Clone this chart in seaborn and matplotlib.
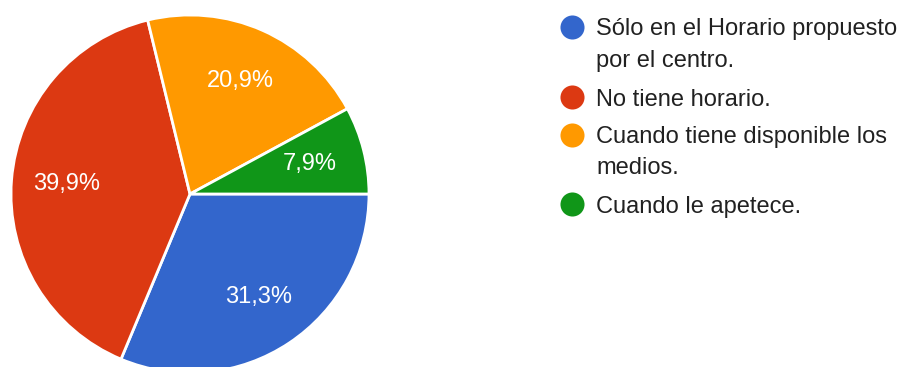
import matplotlib
matplotlib.use("Agg")
import matplotlib.pyplot as plt
import seaborn as sns

# Response shares (percent) and their categories
categories = [
    ["Sólo en el Horario propuesto", "por el centro."],
    ["No tiene horario."],
    ["Cuando tiene disponible los", "medios."],
    ["Cuando le apetece."],
]
shares = [31.3, 39.9, 20.9, 7.9]
colors = ["#3366CC", "#DC3912", "#FF9900", "#109618"]

sns.set_theme(style="white")
plt.rcParams["font.family"] = ["Liberation Sans", "DejaVu Sans"]

W, H = 906, 367
fig = plt.figure(figsize=(W / 100, H / 100), dpi=100)
ax = fig.add_axes([0, 0, 1, 1])

def fmt(p):
    return f"{p:.1f}%".replace(".", ",")

wedges, texts, autotexts = ax.pie(
    shares,
    colors=colors,
    startangle=0,
    counterclock=False,
    center=(190, H - 194),
    radius=179,
    autopct=fmt,
    pctdistance=0.69,
    wedgeprops=dict(edgecolor="white", linewidth=2),
    textprops=dict(color="white", fontsize=17),
)
ax.set_xlim(0, W)
ax.set_ylim(0, H)
ax.set_aspect("equal")
ax.axis("off")

# Legend: colored dots with wrapped labels, one text line at a time
legend_rows = [27, 97, 135, 204]
line_step = 31
for y, lines, c in zip(legend_rows, categories, colors):
    ax.scatter([572], [H - y], s=300, color=c, marker="o", linewidths=0, clip_on=False)
    for i, line in enumerate(lines):
        ax.text(596, H - y - i * line_step, line, color="#212121", fontsize=17,
                va="center_baseline", ha="left")

fig.savefig("out.png", dpi=100, facecolor="white")
